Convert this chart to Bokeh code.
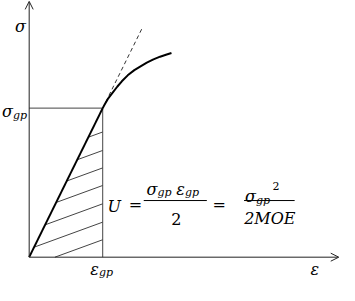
from bokeh.plotting import figure
from bokeh.models import Range1d, Arrow, OpenHead
from bokeh.core.properties import value
from bokeh.embed import file_html
from bokeh.resources import INLINE

# ---- data (normalised units: eps_gp = 1, sigma_gp = 1) ----
eps_gp = 1.0
sig_gp = 1.0
eps_axis_end = 4.21
sig_axis_end = 1.716
tangent_end = [1.53, 1.53]
curve_eps = [1.0, 1.03, 1.07, 1.13, 1.20, 1.26, 1.34, 1.43, 1.52, 1.60, 1.69, 1.78, 1.86, 1.935]
curve_sig = [1.0, 1.028, 1.062, 1.100, 1.145, 1.180, 1.220, 1.255, 1.282, 1.305, 1.327, 1.345, 1.358, 1.370]
hatch_right_sig = [0.840, 0.716, 0.599, 0.481, 0.358, 0.235, 0.117]
hatch_slope = 0.18

W, H = 339, 285
p = figure(width=W, height=H, output_backend="svg", toolbar_location=None,
           x_range=Range1d(-0.39, 4.22), y_range=Range1d(-0.19, 1.722),
           min_border=0)
p.axis.visible = False
p.grid.visible = False
p.outline_line_color = None
p.background_fill_color = "white"

AX = "#222222"
THIN = "#444444"

# axes with open arrow heads
p.add_layout(Arrow(end=OpenHead(size=8, line_width=1, line_color=AX),
                   x_start=0, y_start=0, x_end=0, y_end=sig_axis_end,
                   line_width=1, line_color=AX))
p.add_layout(Arrow(end=OpenHead(size=8, line_width=1, line_color=AX),
                   x_start=0, y_start=0, x_end=eps_axis_end, y_end=0,
                   line_width=1, line_color=AX))

# guide lines
p.line([0, eps_gp], [sig_gp, sig_gp], line_color=THIN, line_width=1)
p.line([eps_gp, eps_gp], [0, sig_gp], line_color=THIN, line_width=1)

# hatch lines
m = sig_gp / eps_gp
xs, ys = [], []
for yr in hatch_right_sig:
    xl = (yr - hatch_slope * eps_gp) / (m - hatch_slope)
    if xl < 0:
        xl = eps_gp - yr / hatch_slope
    yl = yr - hatch_slope * (eps_gp - xl)
    xs.append([xl, eps_gp])
    ys.append([yl, yr])
p.multi_line(xs, ys, line_color=THIN, line_width=1)

# tangent (dashed)
p.line([eps_gp, tangent_end[0]], [sig_gp, tangent_end[1]], line_color="#333333",
       line_width=1, line_dash="4 3")
# linear part
p.line([0, eps_gp], [0, sig_gp], line_color="black", line_width=2, line_join="round")
# nonlinear part
p.line(curve_eps, curve_sig, line_color="black", line_width=2, line_join="round")

FONT = value("DejaVu Serif")
MAIN = "16px"
SUB = "11px"

def txt(x, y, s, size=MAIN, align="left"):
    p.text(x=[x], y=[y], text=[s], text_font=FONT, text_font_style="italic",
           text_font_size=size, text_align=align, text_baseline="alphabetic",
           text_color="black")

def txt_up(x, y, s, size=MAIN, align="center"):
    p.text(x=[x], y=[y], text=[s], text_font=FONT, text_font_style="normal",
           text_font_size=size, text_align=align, text_baseline="alphabetic",
           text_color="black")

# axis labels
txt(-0.117, 1.545, "σ", align="center")
txt(3.883, -0.080, "ε", align="center")
# sigma_gp
txt(-0.221, 0.975, "σ", align="right")
txt(-0.221, 0.951, "gp", size=SUB)
# eps_gp
txt(0.948, -0.080, "ε", align="right")
txt(0.948, -0.105, "gp", size=SUB)

# formula
txt(1.065, 0.340, "U")
txt_up(1.445, 0.352, "=")
txt(1.597, 0.457, "σ")
txt(1.745, 0.432, "gp", size=SUB)
txt(2.0, 0.457, "ε")
txt(2.120, 0.432, "gp", size=SUB)
p.line([1.558, 2.416], [0.380, 0.380], line_color="black", line_width=1)
txt_up(2.0, 0.253, "2")
txt_up(2.584, 0.352, "=")
txt(2.935, 0.407, "σ")
txt(3.085, 0.383, "gp", size=SUB)
txt_up(3.310, 0.480, "2", size=SUB, align="left")
p.line([2.922, 3.610], [0.380, 0.380], line_color="black", line_width=1)
txt(3.273, 0.259, "2MOE", align="center")

open("out.html", "w").write(file_html(p, INLINE))
